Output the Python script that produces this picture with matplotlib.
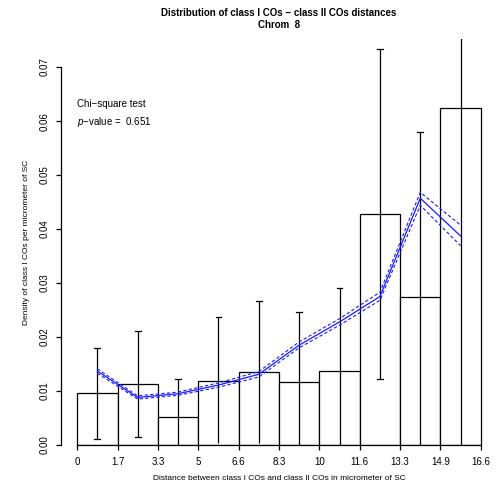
import numpy as np
import matplotlib.pyplot as plt

plt.rcParams['font.family'] = ['Liberation Sans', 'DejaVu Sans']
plt.rcParams['mathtext.fontset'] = 'custom'
plt.rcParams['mathtext.it'] = 'Liberation Sans:italic'
plt.rcParams['mathtext.rm'] = 'Liberation Sans'

# bins of the histogram (micrometer of SC)
edges = np.linspace(0, 16.6, 11)
tick_labels = ["0", "1.7", "3.3", "5", "6.6", "8.3", "10", "11.6", "13.3", "14.9", "16.6"]

# observed density per bin and its error bar ends
density = [0.0096, 0.0113, 0.0052, 0.0119, 0.0135, 0.0116, 0.0137, 0.0428, 0.0275, 0.0625]
err_hi = [0.0180, 0.0211, 0.0123, 0.0237, 0.0267, 0.0247, 0.0290, 0.0733, 0.0580, 0.0900]
err_lo = [0.0012, 0.0014, 0.0000, 0.0003, 0.0004, -0.0050, -0.0050, 0.0122, -0.0050, -0.0100]

# expected density (blue) with band
expected = [0.0137, 0.0088, 0.0095, 0.0111, 0.0131, 0.0185, 0.0228, 0.0275, 0.0457, 0.0387]
exp_hi = [0.0141, 0.0091, 0.0098, 0.0115, 0.0136, 0.0191, 0.0234, 0.0283, 0.0468, 0.0407]
exp_lo = [0.0133, 0.0085, 0.0092, 0.0107, 0.0126, 0.0180, 0.0222, 0.0268, 0.0444, 0.0369]

W, H = 496, 488
fig = plt.figure(figsize=(W / 100, H / 100), dpi=100)
ax = fig.add_axes([61 / W, (H - 445) / H, 436 / W, (445 - 39) / H])
ax.set_xlim(-0.664, 17.264)
ax.set_ylim(0, 0.0752)

mids = (edges[:-1] + edges[1:]) / 2
width = edges[1] - edges[0]

ax.bar(mids, density, width=width, facecolor='white', edgecolor='black', linewidth=0.9)
ax.vlines(mids, err_lo, err_hi, color='black', linewidth=0.9)
cap = 0.12
for x, lo, hi in zip(mids, err_lo, err_hi):
    if hi < 0.0752:
        ax.plot([x - cap, x + cap], [hi, hi], color='black', lw=0.9)
    if lo > 0.0005:
        ax.plot([x - cap, x + cap], [lo, lo], color='black', lw=0.9)

ax.plot(mids, expected, color='#1a1aff', lw=0.9)
ax.plot(mids, exp_hi, color='#1a1aff', lw=0.8, ls=(0, (3, 2)))
ax.plot(mids, exp_lo, color='#1a1aff', lw=0.8, ls=(0, (3, 2)))

# axes in R style
for s in ['top', 'right']:
    ax.spines[s].set_visible(False)
ax.spines['left'].set_bounds(0, 0.07)
ax.spines['bottom'].set_bounds(0, 16.6)
ax.spines['left'].set_linewidth(0.9)
ax.spines['bottom'].set_linewidth(0.9)
ax.set_xticks(edges)
ax.set_xticklabels(tick_labels)
ax.set_yticks(np.arange(0, 0.071, 0.01))
ax.set_yticklabels(["0.00", "0.01", "0.02", "0.03", "0.04", "0.05", "0.06", "0.07"],
                   rotation=90, va='center')
ax.tick_params(axis='x', length=3.5, width=0.9, labelsize=7, pad=5)
ax.tick_params(axis='y', length=3.5, width=0.9, labelsize=7, pad=5)

ax.text(0, 0.0631, "Chi−square test", fontsize=7, va='center', ha='left')
ax.text(0, 0.0598, "$p$−value =  0.651", fontsize=7, va='center', ha='left')

fig.text(279 / W, 1 - 13 / H, "Distribution of class I COs − class II COs distances",
         ha='center', va='center', fontsize=7, fontweight='bold')
fig.text(279 / W, 1 - 25 / H, "Chrom  8", ha='center', va='center', fontsize=7, fontweight='bold')
fig.text(279 / W, 1 - 479 / H, "Distance between class I COs and class II COs in micrometer of SC",
         ha='center', va='center', fontsize=6)
fig.text(27 / W, 1 - 242 / H, "Density of class I COs per micrometer of SC",
         ha='center', va='center', fontsize=6, rotation=90)

fig.savefig("out.png", dpi=100)
